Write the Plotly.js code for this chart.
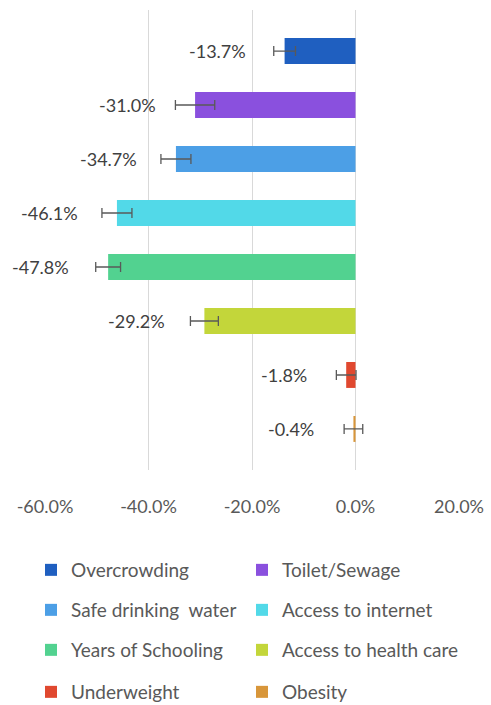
<!DOCTYPE html>
<html>
<head>
<meta charset="utf-8">
<script src="https://cdn.plot.ly/plotly-3.0.1.min.js"></script>
<style>html,body{margin:0;padding:0;background:#fff;}#chart{width:491px;height:705px;}</style>
</head>
<body>
<div id="chart"></div>
<script>
const categories = ["Overcrowding", "Toilet/Sewage", "Safe drinking  water", "Access to internet", "Years of Schooling", "Access to health care", "Underweight", "Obesity"];
const values = [-13.7, -31.0, -34.7, -46.1, -47.8, -29.2, -1.8, -0.4];
const errors = [2.1, 3.8, 2.9, 2.9, 2.4, 2.7, 1.9, 1.8];
const labels = ["-13.7%", "-31.0%", "-34.7%", "-46.1%", "-47.8%", "-29.2%", "-1.8%", "-0.4%"];
const colors = ["#1F5FC0", "#8A50DE", "#4C9FE6", "#52D9E8", "#52D290", "#C3D63A", "#E0482F", "#D8963A"];
const tickVals = [-60, -40, -20, 0, 20];
const tickText = ["-60.0%", "-40.0%", "-20.0%", "0.0%", "20.0%"];

const FONT = "Lato, 'Open Sans', sans-serif";
const legendNames = categories.map((c, i) => i === 0 ? "legend" : "legend" + (i + 1));

const traces = categories.map((c, i) => ({
  type: "bar",
  orientation: "h",
  name: c,
  x: [values[i]],
  y: [c],
  marker: {color: colors[i]},
  error_x: {type: "data", array: [errors[i]], visible: true, color: "#595959", thickness: 1.3, width: 5},
  legend: legendNames[i],
  hoverinfo: "x+name"
}));

const annotations = categories.map((c, i) => ({
  x: values[i], y: c, xref: "x", yref: "y",
  text: labels[i], showarrow: false, xanchor: "right", yanchor: "middle",
  xshift: -37, font: {family: FONT, size: 18, color: "#404040"}
}));

const rowYs = [570, 610, 650, 692];
const colXs = [51, 262];

function leg(i) {
  const row = Math.floor(i / 2), col = i % 2;
  return {
    orientation: "h", xref: "container", yref: "container",
    x: (colXs[col] - 20) / 491, xanchor: "left", y: 1 - rowYs[row] / 705, yanchor: "middle",
    font: {family: FONT, size: 19, color: "#595959"},
    bgcolor: "rgba(0,0,0,0)", borderwidth: 0
  };
}

const layout = {
  width: 491, height: 705,
  margin: {l: 45, r: 32, t: 10, b: 235},
  paper_bgcolor: "#ffffff", plot_bgcolor: "#ffffff",
  barmode: "overlay", bargap: 0.52,
  showlegend: true,
  xaxis: {
    range: [-60, 20], tickvals: tickVals, ticktext: tickText,
    showgrid: true, gridcolor: "#D9D9D9", gridwidth: 1,
    zeroline: false, showline: false,
    ticks: "outside", ticklen: 20, tickcolor: "rgba(0,0,0,0)",
    tickfont: {family: FONT, size: 18, color: "#595959"}
  },
  yaxis: {
    type: "category", categoryorder: "array", categoryarray: categories,
    range: [7.76, -0.76], showticklabels: false, showgrid: false, zeroline: false, showline: false, ticks: ""
  },
  annotations: annotations
};
legendNames.forEach((n, i) => { layout[n] = leg(i); });

Plotly.newPlot("chart", traces, layout, {displayModeBar: false, staticPlot: true});
</script>
</body>
</html>
